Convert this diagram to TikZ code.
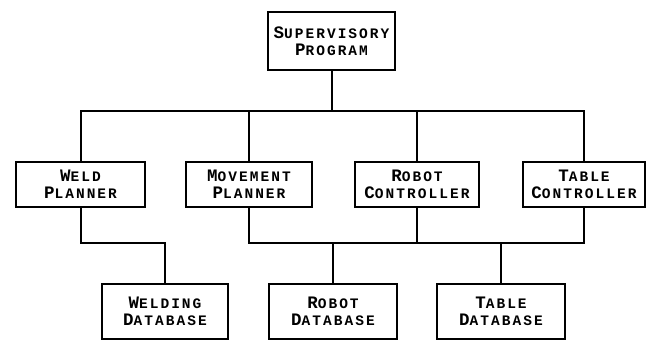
\documentclass[tikz,border=0pt]{standalone}
\usepackage{fontspec}
\newfontfamily\plotfont{Liberation Mono}[LetterSpace=14]
\newcommand{\cw}[2]{{\fontsize{17.5}{17}\selectfont #1}{\fontsize{14.5}{17}\selectfont #2}}
\tikzset{
  box/.style={draw, line width=2pt, rectangle, inner sep=0pt, align=center,
    font=\plotfont\bfseries\fontsize{14.5}{17}\selectfont},
  link/.style={line width=2pt},
}
\begin{document}
\begin{tikzpicture}[x=1pt,y=-1pt]
\useasboundingbox (0,0) rectangle (648,341);
\node[box, minimum width=127pt, minimum height=58pt] (sup) at (331.5,41) {\cw{S}{UPERVISORY}\\\cw{P}{ROGRAM}};
\node[box, minimum width=129pt, minimum height=45pt] (weld) at (80.5,184.5) {\cw{W}{ELD}\\\cw{P}{LANNER}};
\node[box, minimum width=126pt, minimum height=45pt] (move) at (249,184.5) {\cw{M}{OVEMENT}\\\cw{P}{LANNER}};
\node[box, minimum width=124pt, minimum height=45pt] (robc) at (417,184.5) {\cw{R}{OBOT}\\\cw{C}{ONTROLLER}};
\node[box, minimum width=122pt, minimum height=45pt] (tabc) at (584,184.5) {\cw{T}{ABLE}\\\cw{C}{ONTROLLER}};
\node[box, minimum width=126pt, minimum height=55pt] (wdb) at (165,311.5) {\cw{W}{ELDING}\\\cw{D}{ATABASE}};
\node[box, minimum width=128pt, minimum height=55pt] (rdb) at (333,311.5) {\cw{R}{OBOT}\\\cw{D}{ATABASE}};
\node[box, minimum width=128pt, minimum height=55pt] (tdb) at (501,311.5) {\cw{T}{ABLE}\\\cw{D}{ATABASE}};
\coordinate (ub) at (0,111);
\coordinate (lb) at (0,243);
% upper bus
\draw[link] (sup.south) -- (sup.south |- ub);
\draw[link] (weld.north) -- (weld.north |- ub) -- (tabc.north |- ub) -- (tabc.north);
\draw[link] (move.north) -- (move.north |- ub);
\draw[link] (robc.north) -- (robc.north |- ub);
% weld planner to welding database
\draw[link] (weld.south) -- (weld.south |- lb) -| (wdb.north);
% lower bus
\draw[link] (move.south) -- (move.south |- lb) -- (tabc.south |- lb) -- (tabc.south);
\draw[link] (robc.south) -- (robc.south |- lb);
\draw[link] (rdb.north) -- (rdb.north |- lb);
\draw[link] (tdb.north) -- (tdb.north |- lb);
\end{tikzpicture}
\end{document}
